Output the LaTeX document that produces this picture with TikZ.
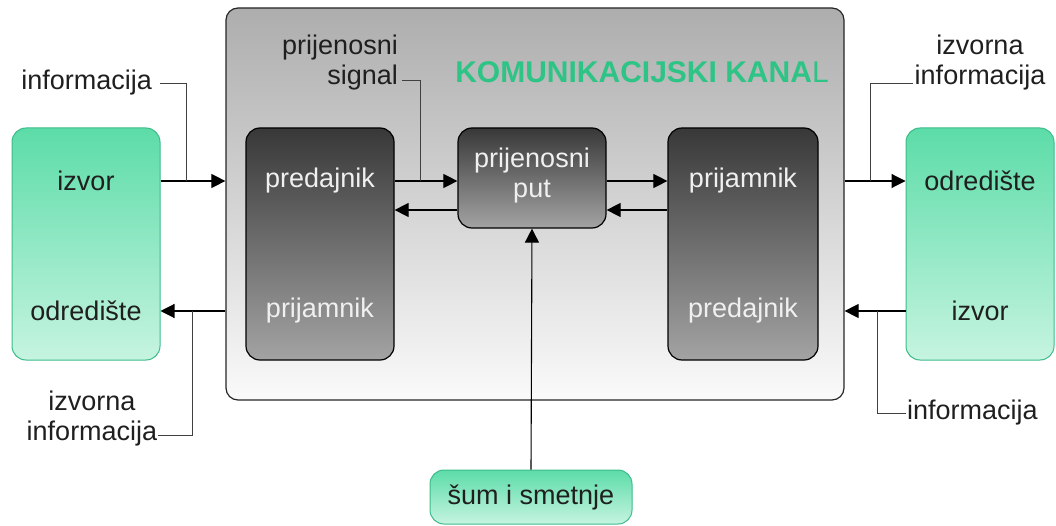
\documentclass[tikz,border=0pt]{standalone}
\usepackage{fontspec}
\setmainfont{Liberation Sans}
\usetikzlibrary{arrows.meta}
\definecolor{gtop}{HTML}{5CDCA8}
\definecolor{gbot}{HTML}{C6F4E0}
\definecolor{gedge}{HTML}{3DBB8A}
\definecolor{ktitle}{HTML}{2EC486}
\begin{document}
\begin{tikzpicture}[x=1pt,y=-1pt,
  greenbox/.style={draw=gedge,line width=1pt,rounded corners=14pt,top color=gtop,bottom color=gbot,inner sep=0pt},
  darkbox/.style={draw=black,line width=1.2pt,rounded corners=14pt,top color=black!78,bottom color=black!36,inner sep=0pt},
  chanbox/.style={draw=black!85,line width=1.2pt,rounded corners=12pt,top color=black!32,bottom color=black!2,inner sep=0pt},
  lbl/.style={font=\fontsize{27}{30}\selectfont,text=black!88,inner sep=0pt},
  wlbl/.style={font=\fontsize{27}{30}\selectfont,text=white!94!black,inner sep=0pt},
  arr/.style={line width=1.1pt,-{Triangle[length=14pt,width=14pt]}},
  thin/.style={line width=0.8pt,draw=black!75}]
\useasboundingbox (0,0) rectangle (1056,526);
% boxes
\node[chanbox,minimum width=618pt,minimum height=392pt] (chan) at (535,204) {};
\node[greenbox,minimum width=148pt,minimum height=232pt] (lbox) at (86,244) {};
\node[greenbox,minimum width=148pt,minimum height=232pt] (rbox) at (980,244) {};
\node[greenbox,minimum width=202pt,minimum height=54pt] (sum) at (531,497) {};
\node[darkbox,minimum width=148pt,minimum height=232pt] (pred) at (320,244) {};
\node[darkbox,minimum width=148pt,minimum height=100pt] (put) at (532,178) {};
\node[darkbox,minimum width=150pt,minimum height=232pt] (prij) at (743,244) {};
% texts
\node[lbl] (lizv) at (86,181) {izvor};
\node[lbl] (lodr) at (86,311) {odredište};
\node[lbl] (rodr) at (980,181) {odredište};
\node[lbl] (rizv) at (980,311) {izvor};
\node[lbl] (sumt) at (531,497) {šum i smetnje};
\node[wlbl] (pred1) at (320,181) {predajnik};
\node[wlbl] (pred2) at (320,311) {prijamnik};
\node[wlbl] (prij1) at (743,181) {prijamnik};
\node[wlbl] (prij2) at (743,311) {predajnik};
\node[wlbl,align=center] (putt) at (532,176) {prijenosni\\put};
\node[inner sep=0pt,text=ktitle,font=\fontsize{30}{32}\selectfont\bfseries] (title) at (642,72) {KOMUNIKACIJSKI KANA{\mdseries L}};
\node[lbl,align=right,anchor=east] (sig) at (398,63) {prijenosni\\signal};
\node[lbl,anchor=east] (inf1) at (152,83) {informacija};
\node[lbl,align=center] (izinf1) at (980,63) {izvorna\\informacija};
\node[lbl,align=center] (izinf2) at (92,419) {izvorna\\informacija};
\node[lbl,anchor=west] (inf2) at (907,413) {informacija};
% main arrows
\draw[arr] (lbox.east |- lizv) -- (chan.west |- lizv);
\draw[arr] (chan.west |- lodr) -- (lbox.east |- lodr);
\draw[arr] (pred.east |- pred1) -- (put.west |- pred1);
\draw[arr] (put.west |- 0,210) -- (pred.east |- 0,210);
\draw[arr] (put.east |- prij1) -- (prij.west |- prij1);
\draw[arr] (prij.west |- 0,210) -- (put.east |- 0,210);
\draw[arr] (chan.east |- rodr) -- (rbox.west |- rodr);
\draw[arr] (rbox.west |- rizv) -- (chan.east |- rizv);
\draw[arr] (sum.north) -- (put.south);
% label leaders
\coordinate (j1) at (186,181);
\coordinate (j2) at (420,181);
\coordinate (j3) at (870,181);
\coordinate (j4) at (877,311);
\coordinate (j5) at (192,311);
\coordinate (sigend) at ([xshift=4pt]sig.east |- 0,80);
\draw[thin] ([xshift=8pt]inf1.east) -- (j1 |- inf1) -- (j1);
\draw[thin] (sigend) -- (j2 |- sigend) -- (j2);
\draw[thin] ([xshift=-2pt]izinf1.west |- 0,83) -- (j3 |- 0,83) -- (j3);
\draw[thin] ([xshift=-1pt]inf2.west) -- (j4 |- inf2) -- (j4);
\draw[thin] ([xshift=1pt]izinf2.east |- 0,435) -- (j5 |- 0,435) -- (j5);
\end{tikzpicture}
\end{document}
